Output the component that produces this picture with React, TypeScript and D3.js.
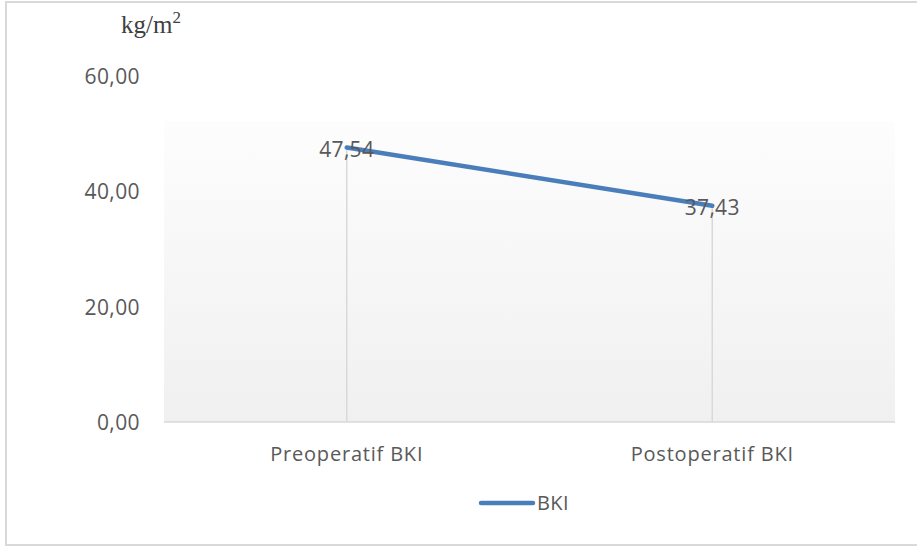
import React from "react";
import * as d3 from "d3";

const categories = ["Preoperatif BKI", "Postoperatif BKI"];
const values = [47.54, 37.43];
const seriesName = "BKI";
const yTicks = [0, 20, 40, 60];
const unitLabel = "kg/m";

const W = 917;
const H = 547;
const plot = { left: 164, right: 895, top: 75.5, bottom: 422 };

export default function App() {
  const x = d3.scaleBand<string>().domain(categories).range([plot.left, plot.right]);
  const y = d3.scaleLinear().domain([0, 60]).range([plot.bottom, plot.top]);
  const fmt = (v: number) => v.toFixed(2).replace(".", ",");
  const cx = (c: string) => (x(c) as number) + x.bandwidth() / 2;
  const line = d3
    .line<number>()
    .x((_, i) => cx(categories[i]))
    .y((d) => y(d));
  const font = "'Open Sans', sans-serif";
  const textColor = "#595959";
  const lineColor = "#4a7ebb";

  return (
    <svg
      width={W}
      height={H}
      style={{ position: "absolute", left: 0, top: 0, background: "#fff" }}
    >
      <defs>
        <linearGradient id="pa" x1="0" y1="0" x2="0" y2="1">
          <stop offset="0" stopColor="#fdfdfd" />
          <stop offset="1" stopColor="#f0f0f0" />
        </linearGradient>
      </defs>
      <rect x={6} y={2} width={930} height={543} fill="#fff" stroke="#d9d9d9" strokeWidth={2} />
      <rect x={plot.left} y={121} width={plot.right - plot.left} height={plot.bottom - 121} fill="url(#pa)" />
      {values.map((v, i) => (
        <line
          key={"d" + i}
          x1={cx(categories[i])}
          x2={cx(categories[i])}
          y1={y(v)}
          y2={plot.bottom}
          stroke="#d9d9d9"
          strokeWidth={1.5}
        />
      ))}
      <line x1={plot.left} x2={plot.right} y1={plot.bottom} y2={plot.bottom} stroke="#d9d9d9" strokeWidth={1.5} />
      {yTicks.map((t) => (
        <text
          key={"t" + t}
          x={140}
          y={y(t) + 1}
          dy="0.35em"
          textAnchor="end"
          fontFamily={font}
          fontSize={21}
          letterSpacing={0.4}
          fill={textColor}
        >
          {fmt(t)}
        </text>
      ))}
      {categories.map((c) => (
        <text
          key={c}
          x={cx(c)}
          y={454}
          dy="0.35em"
          textAnchor="middle"
          fontFamily={font}
          fontSize={20}
          letterSpacing={0.8}
          fill={textColor}
        >
          {c}
        </text>
      ))}
      <path d={line(values) || ""} fill="none" stroke={lineColor} strokeWidth={4.5} strokeLinecap="round" />
      {values.map((v, i) => (
        <text
          key={"l" + i}
          x={cx(categories[i])}
          y={y(v) + 2}
          dy="0.35em"
          textAnchor="middle"
          fontFamily={font}
          fontSize={21}
          letterSpacing={0.3}
          fill={textColor}
        >
          {fmt(v)}
        </text>
      ))}
      <text x={121} y={33} fontFamily="'Liberation Serif', 'Times New Roman', serif" fontSize={25} fill="#404040">
        {unitLabel}
        <tspan dy={-10} fontSize={17}>2</tspan>
      </text>
      <line x1={481} x2={533} y1={503} y2={503} stroke={lineColor} strokeWidth={4.5} strokeLinecap="round" />
      <text x={537} y={503} dy="0.35em" fontFamily={font} fontSize={20} letterSpacing={0.4} fill={textColor}>
        {seriesName}
      </text>
    </svg>
  );
}
